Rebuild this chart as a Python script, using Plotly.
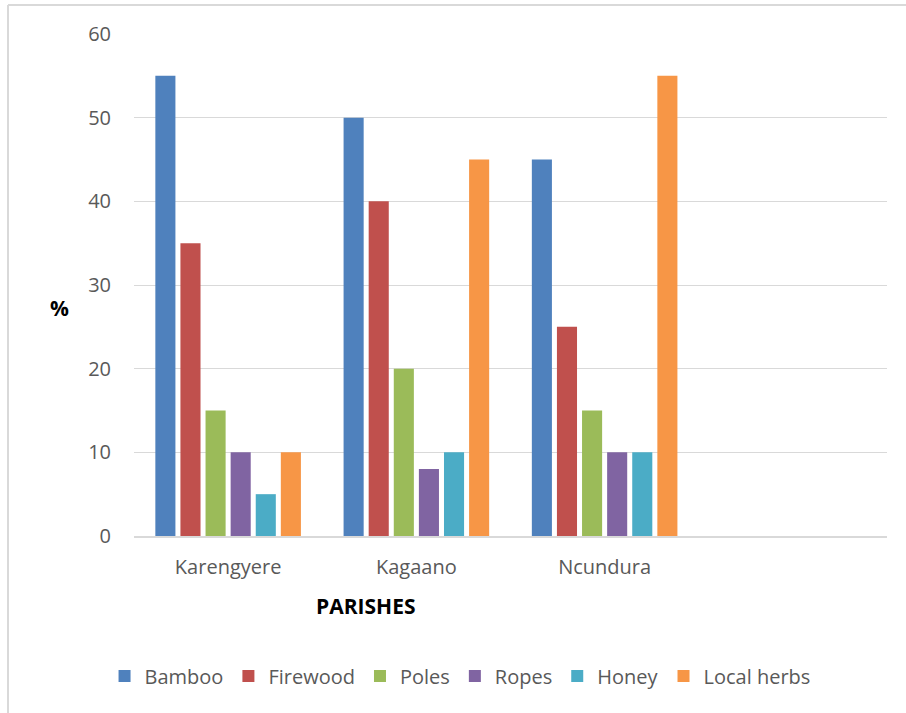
import plotly.graph_objects as go

# Parishes (the last slot on the axis stays empty)
parishes = ["Karengyere", "Kagaano", "Ncundura"]

# Percentage of respondents using each forest product
bamboo = [55, 50, 45]
firewood = [35, 40, 25]
poles = [15, 20, 15]
ropes = [10, 8, 10]
honey = [5, 10, 10]
local_herbs = [10, 45, 55]

series = [
    ("Bamboo", bamboo, "#4f81bd"),
    ("Firewood", firewood, "#c0504d"),
    ("Poles", poles, "#9bbb59"),
    ("Ropes", ropes, "#8064a2"),
    ("Honey", honey, "#4bacc6"),
    ("Local herbs", local_herbs, "#f79646"),
]

y_ticks = [0, 10, 20, 30, 40, 50, 60]

FONT = "Open Sans"
GREY = "#595959"
GRID = "#d9d9d9"

fig = go.Figure()
for name, vals, color in series:
    fig.add_trace(go.Bar(
        x=parishes, y=vals, name=name,
        marker=dict(color=color, line=dict(width=0)),
    ))

fig.update_layout(
    width=906, height=713,
    margin=dict(l=134, r=19, t=34, b=177, autoexpand=False),
    paper_bgcolor="white", plot_bgcolor="white",
    barmode="group", bargap=0.2, bargroupgap=0.2,
    font=dict(family=FONT, size=20, color=GREY),
    showlegend=True,
    legend=dict(
        orientation="h", xref="paper", x=0.433, xanchor="center",
        yref="paper", y=-0.279, yanchor="middle",
        font=dict(family=FONT, size=20, color=GREY),
        itemwidth=30, traceorder="normal",
    ),
    xaxis=dict(
        type="category", categoryorder="array",
        categoryarray=parishes,
        range=[-0.5, 3.5], automargin=False,
        showgrid=False, showline=True, linecolor=GRID, linewidth=1.5,
        ticks="", ticklabelstandoff=12, tickangle=0,
        tickfont=dict(family=FONT, size=20, color=GREY),
    ),
    yaxis=dict(
        range=[0, 60], tickvals=y_ticks, automargin=False,
        showgrid=True, gridcolor=GRID, gridwidth=1.3,
        zeroline=False, showline=False, ticks="",
        ticklabelstandoff=22,
        tickfont=dict(family=FONT, size=20, color=GREY),
    ),
    annotations=[
        dict(text="<b>%</b>", xref="paper", yref="paper",
             x=-0.0983, y=0.454, xanchor="center", yanchor="middle",
             showarrow=False,
             font=dict(family=FONT, size=21, color="black")),
        dict(text="<b>PARISHES</b>", xref="paper", yref="paper",
             x=0.307, y=-0.139, xanchor="center", yanchor="middle",
             showarrow=False,
             font=dict(family=FONT, size=21, color="black")),
    ],
    shapes=[
        dict(type="line", xref="paper", yref="paper",
             x0=-0.1673, x1=-0.1673, y0=1.0578, y1=-0.36,
             line=dict(color=GRID, width=2)),
        dict(type="line", xref="paper", yref="paper",
             x0=-0.1673, x1=1.03, y0=1.0578, y1=1.0578,
             line=dict(color=GRID, width=2)),
    ],
)

fig.write_html("out.html")
